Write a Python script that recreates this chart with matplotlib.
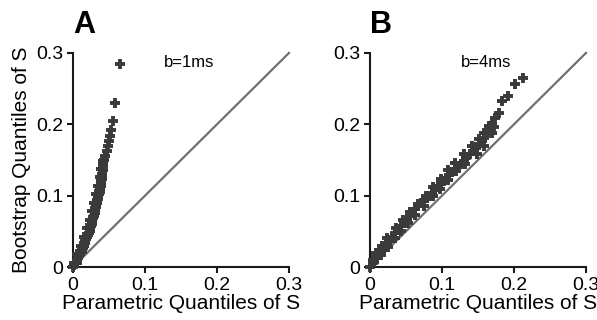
import numpy as np
import matplotlib
matplotlib.use("Agg")
from matplotlib import pyplot as plt

plt.rcParams['font.family'] = ['Liberation Sans', 'DejaVu Sans']

# panel A, b=1ms : parametric vs bootstrap quantiles
param_A = [0.000, 0.002, 0.004, 0.006, 0.007, 0.009, 0.010, 0.012, 0.013, 0.014,
           0.015, 0.016, 0.017, 0.018, 0.019, 0.021, 0.022, 0.023, 0.024, 0.025,
           0.026, 0.026, 0.027, 0.028, 0.029, 0.030, 0.030, 0.031, 0.032, 0.032,
           0.033, 0.034, 0.035, 0.035, 0.036, 0.037, 0.037, 0.038, 0.038, 0.039,
           0.039, 0.040, 0.040, 0.041, 0.041, 0.042, 0.043, 0.045, 0.047, 0.048,
           0.050, 0.051, 0.053, 0.055, 0.059, 0.065]
boot_A = [0.000, 0.003, 0.006, 0.009, 0.012, 0.015, 0.018, 0.021, 0.024, 0.027,
          0.030, 0.033, 0.036, 0.039, 0.042, 0.045, 0.048, 0.051, 0.054, 0.057,
          0.060, 0.063, 0.066, 0.069, 0.072, 0.075, 0.078, 0.081, 0.084, 0.087,
          0.090, 0.093, 0.096, 0.099, 0.102, 0.105, 0.108, 0.111, 0.114, 0.117,
          0.121, 0.126, 0.131, 0.136, 0.141, 0.146, 0.150, 0.155, 0.162, 0.169,
          0.176, 0.184, 0.192, 0.204, 0.230, 0.285]
# points on both edges of the dense band in A
param_A_edge = [0.001, 0.006, 0.011, 0.015, 0.019, 0.023, 0.026, 0.029, 0.032,
                0.035, 0.037, 0.039, 0.041,
                0.005, 0.010, 0.015, 0.019, 0.023, 0.027, 0.030, 0.033, 0.036,
                0.039, 0.040]
boot_A_edge = [0.006, 0.018, 0.030, 0.042, 0.054, 0.066, 0.078, 0.090, 0.102,
               0.114, 0.126, 0.138, 0.148,
               0.006, 0.018, 0.030, 0.042, 0.054, 0.066, 0.078, 0.090, 0.102,
               0.114, 0.124]

# panel B, b=4ms
param_B = [0.000, 0.004, 0.008, 0.011, 0.015, 0.019, 0.023, 0.027, 0.031, 0.035,
           0.039, 0.043, 0.047, 0.051, 0.055, 0.059, 0.063, 0.067, 0.071, 0.075,
           0.079, 0.082, 0.086, 0.090, 0.094, 0.098, 0.102, 0.106, 0.110, 0.114,
           0.118, 0.122, 0.126, 0.130, 0.134, 0.139, 0.143, 0.147, 0.151, 0.155,
           0.159, 0.164, 0.167, 0.170, 0.173, 0.179, 0.184, 0.191, 0.201, 0.212]
boot_B = [0.000, 0.006, 0.013, 0.019, 0.023, 0.027, 0.032, 0.037, 0.042, 0.047,
          0.052, 0.057, 0.062, 0.067, 0.072, 0.076, 0.081, 0.085, 0.089, 0.093,
          0.097, 0.100, 0.104, 0.108, 0.113, 0.117, 0.121, 0.125, 0.129, 0.133,
          0.137, 0.141, 0.145, 0.149, 0.153, 0.159, 0.163, 0.167, 0.172, 0.176,
          0.181, 0.188, 0.195, 0.200, 0.209, 0.216, 0.233, 0.239, 0.257, 0.265]
# points on both edges of the dense band in B
param_B_edge = [0.004, 0.008, 0.016, 0.024, 0.036, 0.046, 0.056, 0.066, 0.078,
                0.088, 0.098, 0.108, 0.118, 0.131, 0.142, 0.152, 0.159, 0.165,
                0.006, 0.015, 0.025, 0.035, 0.043, 0.053, 0.063, 0.075, 0.087,
                0.097, 0.108, 0.120, 0.132, 0.148, 0.158, 0.169, 0.172]
boot_B_edge = [0.010, 0.019, 0.030, 0.040, 0.055, 0.066, 0.077, 0.088, 0.100,
               0.112, 0.124, 0.136, 0.146, 0.159, 0.170, 0.180, 0.188, 0.198,
               0.007, 0.017, 0.028, 0.040, 0.050, 0.062, 0.073, 0.086, 0.100,
               0.110, 0.122, 0.134, 0.145, 0.159, 0.170, 0.188, 0.196]

panels = [("A", "b=1ms", param_A + param_A_edge, boot_A + boot_A_edge),
          ("B", "b=4ms", param_B + param_B_edge, boot_B + boot_B_edge)]
ticks = [0, 0.1, 0.2, 0.3]
ticklabels = ["0", "0.1", "0.2", "0.3"]

fig = plt.figure(figsize=(5.97, 3.2), dpi=100)
lefts = [0.1223, 0.6198]

for i, (letter, note, xq, yq) in enumerate(panels):
    ax = fig.add_axes([lefts[i], 0.1656, 0.3618, 0.669])
    ax.plot([0, 0.3], [0, 0.3], c='#707070', lw=1.6, zorder=2, clip_on=False)
    ax.plot(xq, yq, ls='none', marker='+', ms=7.0, mew=2.8, c='#3a3a3a',
            zorder=3, clip_on=False)
    ax.set_xlim(0, 0.3)
    ax.set_ylim(0, 0.3)
    ax.set_xticks(ticks)
    ax.set_yticks(ticks)
    ax.set_xticklabels(ticklabels)
    ax.set_yticklabels(ticklabels)
    for s in ['top', 'right']:
        ax.spines[s].set_visible(False)
    for s in ['left', 'bottom']:
        ax.spines[s].set_linewidth(1.5)
        ax.spines[s].set_color('#1a1a1a')
    ax.tick_params(direction='out', length=4, width=1.5, labelsize=14, pad=3,
                   color='#1a1a1a')
    ax.set_xlabel("Parametric Quantiles of S", fontsize=15, labelpad=0)
    if i == 0:
        ax.set_ylabel("Bootstrap Quantiles of S", fontsize=15, labelpad=4)
    ax.text(0.126, 0.287, note, fontsize=12, va='center', ha='left')
    ax.text(0.0, 1.06, letter, transform=ax.transAxes, fontsize=22,
            fontweight='bold', ha='left', va='bottom')

fig.savefig("out.png", dpi=100)
